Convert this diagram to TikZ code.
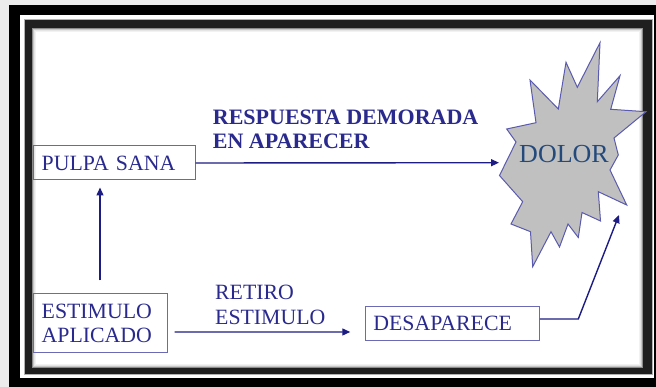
\documentclass[tikz,border=0pt]{standalone}
\usepackage{fontspec}
\setmainfont{Liberation Serif}
\usetikzlibrary{arrows.meta}
\definecolor{txtnavy}{HTML}{2A2A8E}
\definecolor{linenavy}{HTML}{1C1C84}
\definecolor{boxblue}{HTML}{6A6AB5}
\definecolor{boxgray}{HTML}{707070}
\definecolor{starfill}{HTML}{C0C0C0}
\definecolor{starline}{HTML}{5A5AAE}
\definecolor{dolorcol}{HTML}{244A7C}
\tikzset{
  conn/.style={draw=linenavy, line width=1.4pt, -{Triangle[length=8pt,width=7pt]}},
  plain/.style={draw=linenavy, line width=1.4pt},
  boxtext/.style={font=\fontsize{21.8}{24.4}\selectfont, text=txtnavy, align=left, inner ysep=0pt},
  label/.style={font=\fontsize{21.8}{25}\selectfont, text=txtnavy, align=left, inner sep=0pt, anchor=north west},
  boldlabel/.style={font=\fontsize{22}{23.3}\selectfont\bfseries, text=txtnavy, align=left, inner sep=0pt, anchor=north west},
}
\begin{document}
\begin{tikzpicture}[x=1pt,y=-1pt]
\useasboundingbox (0,0) rectangle (656,387);
\clip (0,0) rectangle (656,387);
% frame
\fill[gray!15] (0,0) rectangle (656,387);
\fill[black] (9,5) rectangle (700,420);
\fill[white] (20,15) rectangle (654,378);
\fill[gray!60] (24,19) rectangle (653,375);
\fill[black!88] (25,20) rectangle (652,374);
\fill[white] (32,28) rectangle (643,368);
\draw[black!45, line width=1pt] (32.5,28.5) rectangle (642.5,367.5);
\draw[black!22, line width=1pt] (33.5,29.5) rectangle (641.5,366.5);
\draw[black!10, line width=1pt] (34.5,30.5) rectangle (640.5,365.5);
\draw[black!5, line width=1pt] (35.5,31.5) rectangle (639.5,364.5);
% star
\filldraw[fill=starfill, draw=starline, line width=1pt]
 (600,42.7) -- (597.3,101.7) -- (620,75.7) -- (610.7,109.3) -- (646,111.7)
 -- (614,138) -- (618.3,155) -- (610,170) -- (626.7,205) -- (598.3,191.7)
 -- (600.5,221) -- (582,212.5) -- (578.3,237.5) -- (568,224) -- (559.5,247)
 -- (551,231.7) -- (532.7,266.7) -- (530.5,231.7) -- (511,224) -- (522.7,201.7)
 -- (499.5,175.5) -- (516,142) -- (506.7,129) -- (536,122.7) -- (530,80)
 -- (558.3,109) -- (566,62.3) -- (577.3,87.3) -- cycle;
\node[font=\fontsize{26}{28}\selectfont, text=dolorcol, inner sep=0pt] (dolor) at (564,154) {DOLOR};
% boxes
\node[boxtext, draw=boxgray, line width=1pt, minimum height=34pt, inner xsep=8.7pt, text width=144.6pt] (pulpa) at (114,163) {PULPA SANA};
\node[boxtext, draw=boxblue, line width=1pt, minimum height=58.7pt, inner xsep=8.4pt, text width=117.6pt] (estimulo) at (100.5,323.35) {ESTIMULO\\APLICADO};
\node[boxtext, draw=boxblue, line width=1pt, minimum height=34pt, inner xsep=8.3pt, text width=157.7pt] (desap) at (452.2,323.7) {DESAPARECE};
% labels
\node[boldlabel] (resp) at (212.7,110) {RESPUESTA DEMORADA\\EN APARECER};
\node[label] (retiro) at (215,285) {RETIRO\\ESTIMULO};
% connector end points
\coordinate (tipdolor) at (499,162.7);
\coordinate (tipstar) at (619,215);
\coordinate (bend) at (578.3,319);
% connectors
\draw[conn] (pulpa.east) -- (tipdolor);
\draw[conn, shorten <=13pt, shorten >=7pt] ([xshift=-0.5pt]estimulo.north) -- ([xshift=-0.5pt]estimulo.north |- pulpa.south);
\draw[conn, shorten <=6.3pt, shorten >=14.3pt] ([yshift=-8.6pt]estimulo.east) -- ([yshift=-8.3pt]desap.west);
\draw[conn] ([yshift=4.7pt]desap.east) -- (bend) -- (tipstar);
\end{tikzpicture}
\end{document}
